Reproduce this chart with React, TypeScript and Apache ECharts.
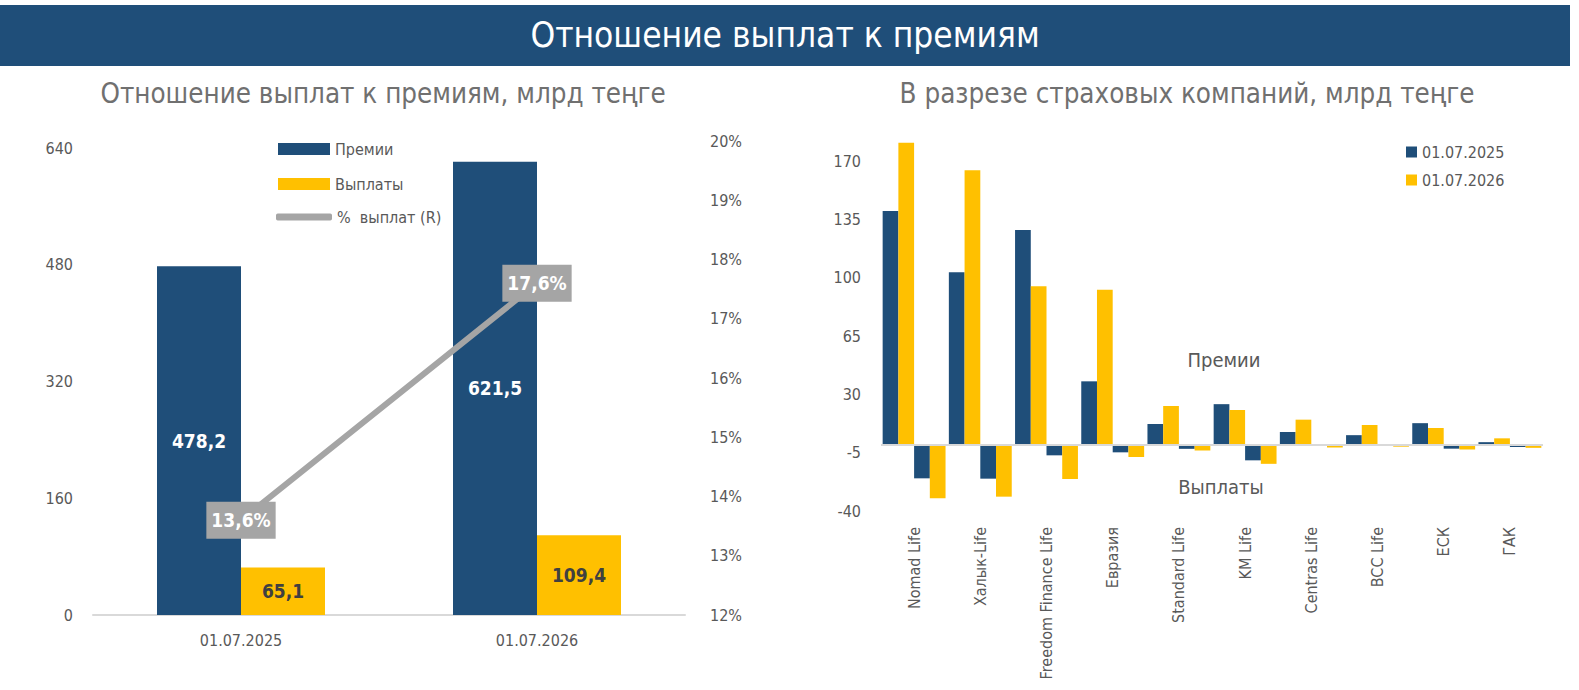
import React, { useEffect, useRef } from "react";
import * as echarts from "echarts";

const FONT = "'Liberation Sans Narrow', 'Arial Narrow', 'DejaVu Sans Condensed', sans-serif";

// Left chart
const leftCategories = ["01.07.2025", "01.07.2026"];
const premiums = [478.2, 621.5];
const payouts = [65.1, 109.4];
const payoutRatio = [13.6, 17.6];

// Right chart
const companies = [
  "Nomad Life",
  "Халык-Life",
  "Freedom Finance Life",
  "Евразия",
  "Standard Life",
  "KM Life",
  "Centras Life",
  "BCC Life",
  "ЕСК",
  "ГАК",
];
const premiums2025 = [140, 103.2, 128.6, 37.8, 12.2, 24.1, 7.4, 5.5, 12.7, 1.3];
const premiums2026 = [181, 164.4, 94.8, 92.8, 23, 20.6, 14.8, 11.6, 9.8, 3.6];
const payouts2025 = [-20.4, -20.6, -6.6, -4.8, -2.7, -9.6, -0.5, -0.2, -2.6, -1.6];
const payouts2026 = [-32.4, -31.4, -20.8, -7.6, -3.7, -11.7, -1.9, -1.4, -3.1, -2.1];

const BLUE = "#1F4E79";
const YELLOW = "#FFC000";
const GRAY_LINE = "#A5A5A5";
const TEXT = "#595959";

const fmt = (v: number) => v.toFixed(1).replace(".", ",");

export default function App() {
  const ref = useRef<HTMLDivElement>(null);

  useEffect(() => {
    document.body.style.margin = "0";
    if (!ref.current) return;
    const chart = echarts.init(ref.current, undefined, { renderer: "svg" });

    const option: any = {
      animation: false,
      textStyle: { fontFamily: FONT },
      title: [
        {
          text: "Отношение выплат к премиям",
          left: 785,
          top: 17,
          textAlign: "center",
          padding: 0,
          textStyle: { color: "#FFFFFF", fontSize: 35, fontWeight: "normal", fontFamily: FONT },
        },
        {
          text: "Отношение выплат к премиям, млрд теңге",
          left: 383,
          top: 79,
          textAlign: "center",
          padding: 0,
          textStyle: { color: "#707070", fontSize: 27.5, fontWeight: "normal", fontFamily: FONT },
        },
        {
          text: "В разрезе страховых компаний, млрд теңге",
          left: 1187,
          top: 79,
          textAlign: "center",
          padding: 0,
          textStyle: { color: "#707070", fontSize: 27.5, fontWeight: "normal", fontFamily: FONT },
        },
      ],
      graphic: [
        {
          type: "rect",
          z: -10,
          shape: { x: 0, y: 5, width: 1570, height: 61 },
          style: { fill: BLUE },
        },
        {
          type: "text",
          x: 1224,
          y: 360,
          style: {
            text: "Премии",
            fill: TEXT,
            fontSize: 20,
            fontFamily: FONT,
            align: "center",
            verticalAlign: "middle",
          },
        },
        {
          type: "text",
          x: 1221,
          y: 487,
          style: {
            text: "Выплаты",
            fill: TEXT,
            fontSize: 20,
            fontFamily: FONT,
            align: "center",
            verticalAlign: "middle",
          },
        },
      ],
      legend: [
        {
          data: ["Премии", "Выплаты"],
          orient: "vertical",
          left: 278,
          top: 139,
          icon: "rect",
          itemWidth: 52,
          itemHeight: 12,
          itemGap: 15,
          padding: 0,
          selectedMode: false,
          textStyle: { color: TEXT, fontSize: 16, lineHeight: 20, fontFamily: FONT },
        },
        {
          data: ["%  выплат (R)"],
          left: 276,
          top: 207,
          icon: "roundRect",
          itemWidth: 56,
          itemHeight: 7,
          padding: 0,
          selectedMode: false,
          textStyle: { color: TEXT, fontSize: 16, lineHeight: 20, fontFamily: FONT },
        },
        {
          data: ["01.07.2025", "01.07.2026"],
          orient: "vertical",
          left: 1406,
          top: 143,
          icon: "rect",
          itemWidth: 11,
          itemHeight: 11,
          itemGap: 10,
          padding: 0,
          selectedMode: false,
          textStyle: { color: TEXT, fontSize: 16, lineHeight: 18, fontFamily: FONT },
        },
      ],
      grid: [
        { left: 93, top: 141, width: 592, height: 474 },
        { left: 881, top: 136, width: 662, height: 375 },
      ],
      xAxis: [
        {
          type: "category",
          gridIndex: 0,
          data: leftCategories,
          axisLine: { lineStyle: { color: "#D9D9D9", width: 2 } },
          axisTick: { show: false },
          axisLabel: { color: TEXT, fontSize: 16, margin: 17, fontFamily: FONT },
        },
        {
          type: "category",
          gridIndex: 1,
          data: companies,
          axisLine: { show: false, onZero: false },
          axisTick: { show: false },
          axisLabel: { color: TEXT, fontSize: 16, margin: 16, rotate: 90, interval: 0, fontFamily: FONT },
        },
      ],
      yAxis: [
        {
          type: "value",
          gridIndex: 0,
          min: 0,
          max: 650,
          interval: 160,
          splitLine: { show: false },
          axisLine: { show: false },
          axisTick: { show: false },
          axisLabel: {
            color: TEXT,
            fontSize: 16,
            margin: 20,
            fontFamily: FONT,
            formatter: (v: number) => (v % 160 === 0 ? String(v) : ""),
          },
        },
        {
          type: "value",
          gridIndex: 0,
          position: "right",
          min: 12,
          max: 20,
          interval: 1,
          splitLine: { show: false },
          axisLine: { show: false },
          axisTick: { show: false },
          axisLabel: { color: TEXT, fontSize: 16, margin: 25, fontFamily: FONT, formatter: "{value}%" },
        },
        {
          type: "value",
          gridIndex: 1,
          min: -40,
          max: 185,
          interval: 35,
          splitLine: { show: false },
          axisLine: { show: false },
          axisTick: { show: false },
          axisLabel: {
            color: TEXT,
            fontSize: 16,
            margin: 20,
            fontFamily: FONT,
            formatter: (v: number) => ((v + 40) % 35 === 0 ? String(v) : ""),
          },
        },
      ],
      series: [
        {
          name: "Премии",
          type: "bar",
          xAxisIndex: 0,
          yAxisIndex: 0,
          data: premiums,
          barWidth: 84,
          barGap: "0%",
          itemStyle: { color: BLUE },
          label: {
            show: true,
            position: "inside",
            color: "#FFFFFF",
            fontSize: 19,
            fontWeight: "bold",
            fontFamily: FONT,
            formatter: (p: any) => fmt(p.value),
          },
        },
        {
          name: "Выплаты",
          type: "bar",
          xAxisIndex: 0,
          yAxisIndex: 0,
          data: payouts,
          barWidth: 84,
          barGap: "0%",
          itemStyle: { color: YELLOW },
          label: {
            show: true,
            position: "inside",
            color: "#404040",
            fontSize: 19,
            fontWeight: "bold",
            fontFamily: FONT,
            formatter: (p: any) => fmt(p.value),
          },
        },
        {
          name: "%  выплат (R)",
          type: "line",
          xAxisIndex: 0,
          yAxisIndex: 1,
          data: payoutRatio,
          z: 5,
          symbol: "circle",
          symbolSize: 2,
          itemStyle: { color: GRAY_LINE },
          lineStyle: { color: GRAY_LINE, width: 6, cap: "round" },
          label: {
            show: true,
            position: "inside",
            color: "#FFFFFF",
            backgroundColor: GRAY_LINE,
            padding: [10, 5, 8, 5],
            fontSize: 19,
            fontWeight: "bold",
            fontFamily: FONT,
            formatter: (p: any) => fmt(p.value) + "%",
          },
        },
        {
          name: "01.07.2025",
          type: "bar",
          xAxisIndex: 1,
          yAxisIndex: 2,
          data: premiums2025,
          barGap: "0%",
          barCategoryGap: "5%",
          itemStyle: { color: BLUE },
          markLine: {
            silent: true,
            symbol: ["none", "none"],
            label: { show: false },
            lineStyle: { color: "#D9D9D9", width: 2, type: "solid" },
            data: [{ yAxis: 0 }],
          },
        },
        {
          name: "01.07.2026",
          type: "bar",
          xAxisIndex: 1,
          yAxisIndex: 2,
          data: premiums2026,
          barGap: "0%",
          barCategoryGap: "5%",
          itemStyle: { color: YELLOW },
        },
        {
          name: "01.07.2025",
          type: "bar",
          xAxisIndex: 1,
          yAxisIndex: 2,
          data: payouts2025,
          barGap: "0%",
          barCategoryGap: "5%",
          itemStyle: { color: BLUE },
        },
        {
          name: "01.07.2026",
          type: "bar",
          xAxisIndex: 1,
          yAxisIndex: 2,
          data: payouts2026,
          barGap: "0%",
          barCategoryGap: "5%",
          itemStyle: { color: YELLOW },
        },
      ],
    };

    chart.setOption(option);
    return () => chart.dispose();
  }, []);

  return <div ref={ref} style={{ width: 1579, height: 690 }} />;
}
